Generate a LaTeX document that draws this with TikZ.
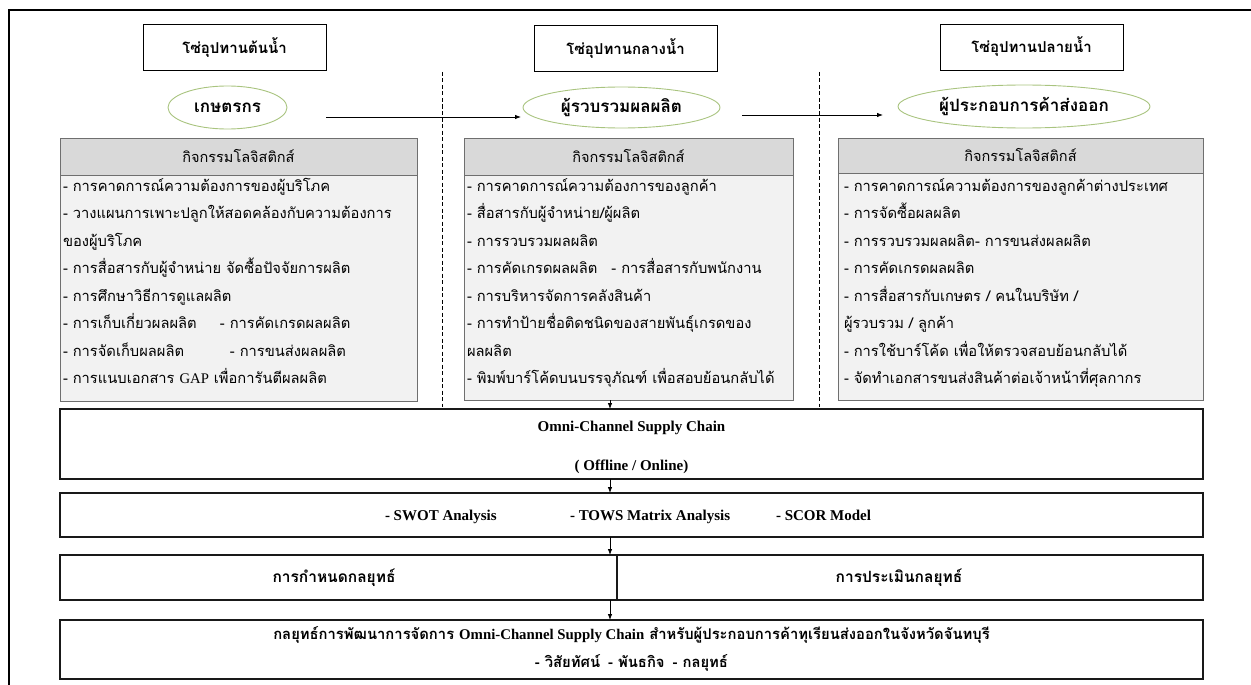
\documentclass[tikz,border=0pt]{standalone}
\usepackage{fontspec}
\setmainfont{Liberation Serif}
\newfontfamily\thai[Script=Thai]{Loma}
\newfontfamily\latin{Liberation Serif}
\usetikzlibrary{arrows.meta,shapes.geometric}
\definecolor{hdrgray}{HTML}{D9D9D9}
\definecolor{bodygray}{HTML}{F2F2F2}
\definecolor{boxedge}{HTML}{6F6F6F}
\definecolor{ellgreen}{HTML}{A9C47F}
\begin{document}
\begin{tikzpicture}[x=1pt,y=-1pt,
  every node/.style={inner sep=0pt, outer sep=0pt},
  hdr/.style={draw=black, line width=0.9pt, fill=white, minimum width=183pt, minimum height=46pt, font=\thai\bfseries\fontsize{15}{17}\selectfont},
  actor/.style={ellipse, draw=ellgreen, line width=0.9pt, fill=white, font=\thai\bfseries\fontsize{17}{19}\selectfont},
  arr/.style={-{Latex[length=6pt,width=4.5pt]}, line width=0.8pt},
  sepline/.style={dash pattern=on 4pt off 2.5pt, line width=0.7pt},
  actbody/.style={draw=boxedge, line width=0.9pt, fill=bodygray, anchor=north west},
  acthead/.style={draw=boxedge, line width=0.9pt, fill=hdrgray, anchor=north west, minimum height=37pt, font=\thai\fontsize{14.5}{16}\selectfont},
  actline/.style={anchor=base west, font=\thai\fontsize{14.7}{16}\selectfont},
  bbox/.style={draw=black!90, line width=1.8pt, fill=white, anchor=north west},
  btext/.style={font=\latin\bfseries\fontsize{15}{17}\selectfont},
  bthai/.style={font=\thai\bfseries\fontsize{14.8}{17}\selectfont},
  sthai/.style={font=\thai\bfseries\fontsize{15.5}{17}\selectfont}
]
\useasboundingbox (0,0) rectangle (1251,685);
% outer frame
\draw[line width=2pt] (9,690) -- (9,10) -- (1256,10);

% stage headers
\node[hdr] (h1) at (234.5,47.5) {โซ่อุปทานต้นน้ำ};
\node[hdr] (h2) at (625.5,48.5) {โซ่อุปทานกลางน้ำ};
\node[hdr] (h3) at (1031.5,47) {โซ่อุปทานปลายน้ำ};

% actors
\node[actor, minimum width=119pt, minimum height=43pt] (e1) at (227.5,107.5) {เกษตรกร};
\node[actor, minimum width=197pt, minimum height=41pt] (e2) at (621.5,107.5) {ผู้รวบรวมผลผลิต};
\node[actor, minimum width=252pt, minimum height=43pt] (e3) at (1024,106.5) {ผู้ประกอบการค้าส่งออก};

\coordinate (a1s) at (326,117);
\coordinate (a2s) at (742,115);
\draw[arr, shorten >=2pt] (a1s) -- (a1s -| e2.west);
\draw[arr, shorten >=15pt] (a2s) -- (a2s -| e3.west);

% dashed separators
\coordinate (d1t) at (442,72); \coordinate (d1b) at (442,407);
\coordinate (d2t) at (819,72); \coordinate (d2b) at (819,407);
\draw[sepline] (d1t) -- (d1b);
\draw[sepline] (d2t) -- (d2b);

% activity boxes
\node[actbody, minimum width=357pt, minimum height=263pt] (b1) at (60,138) {};
\node[acthead, minimum width=357pt] (t1) at (60,138) {กิจกรรมโลจิสติกส์};
\node[actbody, minimum width=329pt, minimum height=262pt] (b2) at (464,138) {};
\node[acthead, minimum width=329pt] (t2) at (464,138) {กิจกรรมโลจิสติกส์};
\node[actbody, minimum width=365pt, minimum height=262pt] (b3) at (838,138) {};
\node[acthead, minimum width=365pt, minimum height=35pt] (t3) at (838,138) {กิจกรรมโลจิสติกส์};

\foreach \t [count=\i] in {
  - การคาดการณ์ความต้องการของผู้บริโภค,
  - วางแผนการเพาะปลูกให้สอดคล้องกับความต้องการ,
  ของผู้บริโภค,
  - การสื่อสารกับผู้จำหน่าย จัดซื้อปัจจัยการผลิต,
  - การศึกษาวิธีการดูแลผลิต,
  \makebox[157pt][l]{- การเก็บเกี่ยวผลผลิต}- การคัดเกรดผลผลิต,
  \makebox[167pt][l]{- การจัดเก็บผลผลิต}- การขนส่งผลผลิต,
  - การแนบเอกสาร {\latin GAP} เพื่อการันตีผลผลิต}
  \node[actline] (la\i) at (63,{191+27.5*(\i-1)}) {\t};

\foreach \t [count=\i] in {
  - การคาดการณ์ความต้องการของลูกค้า,
  - สื่อสารกับผู้จำหน่าย/ผู้ผลิต,
  - การรวบรวมผลผลิต,
  - การคัดเกรดผลผลิต\hspace{14pt}- การสื่อสารกับพนักงาน,
  - การบริหารจัดการคลังสินค้า,
  - การทำป้ายชื่อติดชนิดของสายพันธุ์เกรดของ,
  ผลผลิต,
  - พิมพ์บาร์โค้ดบนบรรจุภัณฑ์ เพื่อสอบย้อนกลับได้}
  \node[actline] (lb\i) at (467,{191+27.5*(\i-1)}) {\t};

\foreach \t [count=\i] in {
  - การคาดการณ์ความต้องการของลูกค้าต่างประเทศ,
  - การจัดซื้อผลผลิต,
  - การรวบรวมผลผลิต- การขนส่งผลผลิต,
  - การคัดเกรดผลผลิต,
  - การสื่อสารกับเกษตร / คนในบริษัท /,
  ผู้รวบรวม / ลูกค้า,
  - การใช้บาร์โค้ด เพื่อให้ตรวจสอบย้อนกลับได้,
  - จัดทำเอกสารขนส่งสินค้าต่อเจ้าหน้าที่ศุลกากร}
  \node[actline] (lc\i) at (844,{191+27.5*(\i-1)}) {\t};

% bottom boxes
\node[bbox, line width=2.4pt, minimum width=1143pt, minimum height=70pt] (omni) at (60,409) {};
\node[btext] (o1) at (631.5,428) {Omni-Channel Supply Chain};
\node[btext] (o2) at (631.5,467) {( Offline / Online)};

\node[bbox, minimum width=1143pt, minimum height=44pt] (swot) at (60,493) {};
\node[btext, anchor=base west] (s1) at (385,520) {- SWOT Analysis};
\node[btext, anchor=base west] (s2) at (570,520) {- TOWS Matrix Analysis};
\node[btext, anchor=base west] (s3) at (776,520) {- SCOR Model};

\node[bbox, minimum width=557pt, minimum height=45pt] (st1) at (60,555) {};
\node[bbox, minimum width=586pt, minimum height=45pt] (st2) at (617,555) {};
\node[sthai] (st1t) at (334,577.5) {การกำหนดกลยุทธ์};
\node[sthai] (st2t) at (899,577.5) {การประเมินกลยุทธ์};

\node[bbox, minimum width=1143pt, minimum height=59pt] (fin) at (60,620) {};
\node[bthai] (f1) at (631.5,635) {กลยุทธ์การพัฒนาการจัดการ {\latin Omni-Channel Supply Chain} สำหรับผู้ประกอบการค้าทุเรียนส่งออกในจังหวัดจันทบุรี};
\node[bthai] (f2) at (631.5,663) {- วิสัยทัศน์\hspace{8pt}- พันธกิจ\hspace{8pt}- กลยุทธ์};

% vertical arrows
\coordinate (ax) at (610,0);
\draw[arr] (b2.south -| ax) -- (omni.north -| ax);
\draw[arr] (omni.south -| ax) -- (swot.north -| ax);
\draw[arr] (swot.south -| ax) -- (st1.north -| ax);
\draw[arr] (st1.south -| ax) -- (fin.north -| ax);
\end{tikzpicture}
\end{document}
